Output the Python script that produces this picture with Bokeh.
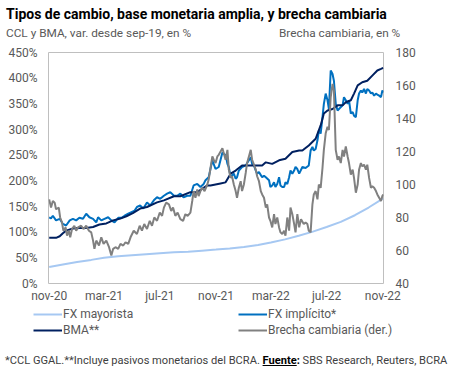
import pandas as pd
from bokeh.plotting import figure
from bokeh.layouts import column, row
from bokeh.models import (Range1d, LinearAxis, FixedTicker, PrintfTickFormatter,
                          Legend, LegendItem, Div)
from bokeh.embed import file_html
from bokeh.resources import INLINE

FONT = "Roboto"
START = pd.Timestamp("2020-11-01")

# x values: days since 1 Nov 2020
tick_dates = ["2020-11-01", "2021-03-01", "2021-07-01", "2021-11-01",
              "2022-03-01", "2022-07-01", "2022-11-01"]
tick_labels = ["nov-20", "mar-21", "jul-21", "nov-21", "mar-22", "jul-22", "nov-22"]

# FX mayorista (var. % desde sep-19)
may_day = [0, 30, 61, 92, 120, 151, 181, 212, 242, 273, 304, 334, 365, 395, 426,
           457, 485, 516, 546, 577, 607, 638, 669, 699, 731]
may_val = [32, 37, 42, 46, 50, 53, 55, 57, 59, 61, 62, 64, 66, 68, 71,
           75, 80, 86, 93, 101, 110, 120, 133, 148, 166]

# FX implícito* (CCL GGAL, var. % desde sep-19)
fx_day = [0, 4, 8, 15, 23, 30, 37, 45, 52, 59, 66, 74, 81, 85, 88, 96, 103, 107, 114, 121,
          129, 136, 143, 151, 158, 165, 173, 180, 187, 192, 199, 206, 214, 221, 229, 236, 243,
          251, 258, 265, 273, 280, 287, 294, 302, 309, 316, 324, 331, 338, 342, 349, 357, 364,
          371, 379, 386, 390, 393, 397, 400, 404, 408, 411, 415, 422, 430, 437, 441, 444, 448,
          452, 455, 459, 466, 470, 474, 481, 484, 488, 492, 495, 499, 503, 506, 510, 514, 517,
          521, 525, 528, 532, 536, 539, 543, 547, 554, 561, 568, 572, 576, 579, 583, 587, 590,
          594, 598, 601, 605, 609, 612, 616, 620, 623, 627, 631, 634, 642, 645, 649, 653, 656,
          660, 664, 667, 671, 675, 678, 682, 685, 689, 693, 696, 700, 704, 707, 711, 715, 718,
          722, 726, 729, 731]
fx_val = [129, 127, 132, 123, 126, 116, 113, 123, 126, 123, 128, 126, 136, 132, 129, 126, 119, 129, 123, 126,
          129, 123, 119, 128, 128, 132, 136, 139, 142, 149, 152, 146, 158, 152, 162, 168, 165,
          171, 175, 178, 171, 171, 175, 168, 171, 171, 191, 194, 188, 194, 201, 207, 240, 223,
          227, 255, 250, 233, 227, 207, 210, 214, 204, 207, 220, 227, 230, 240, 246, 233, 230,
          220, 214, 217, 207, 210, 207, 201, 188, 191, 197, 188, 194, 207, 191, 188, 188, 197,
          194, 207, 220, 214, 220, 227, 223, 214, 227, 225, 230, 259, 266, 259, 262, 279, 298,
          292, 324, 350, 370, 357, 340, 415, 408, 395, 350, 337, 340, 347, 363, 357, 350, 357,
          331, 334, 327, 324, 357, 370, 376, 372, 379, 370, 379, 376, 370, 372, 366, 370, 368,
          366, 363, 376, 372]

# BMA** (var. % desde sep-19)
bma_day = [0, 15, 23, 30, 37, 52, 66, 81, 96, 110, 125, 140, 154, 169, 183, 199, 214, 236,
           251, 273, 287, 309, 324, 346, 353, 375, 386, 397, 408, 422, 437, 452, 466, 474,
           488, 503, 517, 532, 547, 554, 568, 583, 594, 601, 609, 620, 631, 642, 649, 660,
           667, 675, 685, 696, 707, 718, 726, 731]
bma_val = [89, 89, 92, 98, 103, 107, 108, 108, 110, 115, 117, 123, 126, 131, 137, 146, 149, 158,
           162, 170, 170, 178, 178, 191, 191, 195, 197, 214, 220, 230, 230, 230, 230, 236,
           233, 240, 243, 256, 259, 259, 269, 282, 308, 331, 337, 340, 347, 347, 353, 357,
           370, 386, 392, 395, 405, 415, 418, 420]

# Brecha cambiaria (der., %)
gap_day = [0, 4, 8, 12, 15, 21, 24, 28, 31, 36, 39, 43, 46, 50, 55, 59, 63, 70, 75, 81, 87, 92,
           96, 99, 103, 109, 114, 119, 125, 131, 136, 140, 145, 151, 156, 162, 167, 173, 178,
           185, 192, 198, 203, 208, 214, 220, 225, 230, 236, 242, 247, 251, 256, 262, 267, 271,
           276, 281, 287, 293, 298, 303, 309, 313, 316, 320, 324, 327, 331, 335, 340, 346, 349,
           353, 357, 360, 364, 368, 371, 379, 386, 390, 393, 397, 400, 404, 408, 411, 415, 419,
           422, 426, 430, 433, 437, 441, 444, 448, 452, 455, 459, 463, 466, 470, 474, 477, 481,
           484, 488, 492, 495, 499, 503, 506, 510, 514, 517, 521, 525, 528, 532, 536, 539, 543,
           547, 551, 557, 561, 565, 568, 572, 576, 579, 583, 587, 590, 594, 598, 601, 605, 609,
           612, 616, 620, 623, 627, 631, 634, 638, 642, 645, 649, 653, 656, 660, 664, 667, 671,
           675, 678, 682, 685, 689, 693, 696, 700, 704, 707, 711, 715, 718, 722, 726, 729, 731]
gap_val = [91, 86, 90, 89, 85, 86, 80, 77, 72, 74, 69, 72, 68, 73, 75, 72, 74, 75, 73, 75, 72, 71,
           66, 61, 66, 63, 68, 64, 66, 62, 57, 61, 62, 61, 64, 63, 65, 64, 68,
           72, 70, 75, 72, 76, 73, 78, 75, 80, 78, 83, 81, 86, 89, 88, 84, 86,
           81, 83, 79, 78, 82, 81, 83, 90, 96, 92, 97, 93, 96, 98, 96, 100, 103,
           110, 117, 115, 113, 117, 118, 122, 115, 121, 109, 104, 105, 100, 96, 92, 98, 102,
           96, 100, 107, 113, 117, 121, 115, 112, 109, 105, 102, 96, 94, 92, 86, 88, 80,
           78, 74, 82, 76, 80, 74, 71, 70, 72, 69, 80, 72, 86, 82, 76, 71, 82,
           74, 79, 76, 77, 76, 72, 71, 88, 94, 96, 91, 100, 98, 110, 121, 131, 135,
           133, 153, 161, 157, 121, 115, 117, 113, 121, 117, 123, 117, 113, 106, 109, 104, 95,
           100, 109, 113, 111, 112, 109, 112, 104, 98, 99, 98, 96, 94, 92, 90, 93, 94]

tick_days = [int((pd.Timestamp(d) - START).days) for d in tick_dates]

TXT = "#595959"
C_MAY, C_FX, C_BMA, C_GAP = "#a6c8f2", "#0070c0", "#002060", "#808080"

# ---------- header ----------
header = Div(width=456, height=40, margin=(0, 0, 0, 0), text=(
    '<div style="position:relative;width:456px;height:40px;font-family:Roboto;">'
    '<div style="position:absolute;left:6px;top:6.5px;font-size:14px;line-height:14px;'
    'font-weight:bold;color:#000;white-space:nowrap;">'
    'Tipos de cambio, base monetaria amplia, y brecha cambiaria</div>'
    '<div style="position:absolute;left:6px;top:27px;font-size:11.8px;line-height:12px;'
    'color:#595959;white-space:nowrap;">CCL y BMA, var. desde sep-19, en %</div>'
    '<div style="position:absolute;left:279px;top:27px;font-size:11.8px;line-height:12px;'
    'color:#595959;white-space:nowrap;">Brecha cambiaria, en %</div>'
    '</div>'))

# ---------- chart ----------
p = figure(width=456, height=265, output_backend="svg", toolbar_location=None,
           x_range=Range1d(-1.5, 731.5), y_range=Range1d(0, 450),
           min_border_left=48, min_border_right=73, min_border_top=12, min_border_bottom=22,
           background_fill_color="white", border_fill_color="white", margin=(0, 0, 0, 0))
p.xgrid.visible = False
p.ygrid.visible = False
p.outline_line_color = "#bfbfbf"
p.outline_line_width = 1

p.extra_y_ranges = {"gap": Range1d(40, 180)}
right = LinearAxis(y_range_name="gap")
p.add_layout(right, "right")

for ax in [p.xaxis[0], p.yaxis[0], right]:
    ax.axis_line_color = None
    ax.major_tick_line_color = None
    ax.minor_tick_line_color = None
    ax.major_tick_out = 0
    ax.major_tick_in = 0
    ax.minor_tick_out = 0
    ax.major_label_text_font = FONT
    ax.major_label_text_font_size = "12px"
    ax.major_label_text_color = TXT

p.xaxis[0].ticker = FixedTicker(ticks=tick_days)
p.xaxis[0].major_label_overrides = {d: lab for d, lab in zip(tick_days, tick_labels)}
p.xaxis[0].major_label_standoff = 5

p.yaxis[0].ticker = FixedTicker(ticks=list(range(0, 451, 50)))
p.yaxis[0].formatter = PrintfTickFormatter(format="%d%%")
p.yaxis[0].major_label_standoff = 11

right.ticker = FixedTicker(ticks=list(range(40, 181, 20)))
right.major_label_standoff = 12

p.line(may_day, may_val, line_color=C_MAY, line_width=2)
p.line(fx_day, fx_val, line_color=C_FX, line_width=2)
p.line(bma_day, bma_val, line_color=C_BMA, line_width=2)
p.line(gap_day, gap_val, line_color=C_GAP, line_width=2, y_range_name="gap")

# ---------- legend strip (same series, view range kept empty) ----------
lf = figure(width=456, height=35, output_backend="svg", toolbar_location=None,
            x_range=Range1d(-2000, -1000), y_range=Range1d(-2000, -1000),
            x_axis_location=None, y_axis_location=None,
            min_border=0, min_border_left=0, min_border_right=0, min_border_top=0,
            min_border_bottom=0, margin=(0, 0, 0, 0))
lf.grid.visible = False
lf.outline_line_color = None
s_may = lf.line(may_day, may_val, line_color=C_MAY, line_width=2)
s_fx = lf.line(fx_day, fx_val, line_color=C_FX, line_width=2)
s_bma = lf.line(bma_day, bma_val, line_color=C_BMA, line_width=2)
s_gap = lf.line(gap_day, gap_val, line_color=C_GAP, line_width=2, )

def one_legend(label, rend, x, y):
    return Legend(items=[LegendItem(label=label, renderers=[rend])], location=(x, y),
                  orientation="horizontal", padding=0, margin=0, spacing=0,
                  glyph_width=29, glyph_height=14, label_height=14, label_width=20,
                  label_standoff=1, border_line_alpha=0, background_fill_alpha=0,
                  label_text_font=FONT, label_text_font_size="12px", label_text_color=TXT)

lf.add_layout(one_legend("FX mayorista", s_may, 33, 19))
lf.add_layout(one_legend("FX implícito*", s_fx, 238, 19))
lf.add_layout(one_legend("BMA**", s_bma, 33, 3))
lf.add_layout(one_legend("Brecha cambiaria (der.)", s_gap, 238, 3))

# ---------- footnote ----------
footer = Div(width=456, height=32, margin=(0, 0, 0, 0), text=(
    '<div style="position:relative;width:456px;height:32px;font-family:Roboto;">'
    '<div style="position:absolute;left:5px;top:15px;font-size:11.1px;line-height:12px;'
    'color:#404040;white-space:nowrap;">'
    '*CCL GGAL.**Incluye pasivos monetarios del BCRA. '
    '<b style="color:#000;"><u>Fuente</u>:</b> SBS Research, Reuters, BCRA</div>'
    '</div>'))

layout = column(header, p, row(lf, margin=(0, 0, 0, 0)), footer, spacing=0)
open("out.html", "w").write(file_html(layout, INLINE))
